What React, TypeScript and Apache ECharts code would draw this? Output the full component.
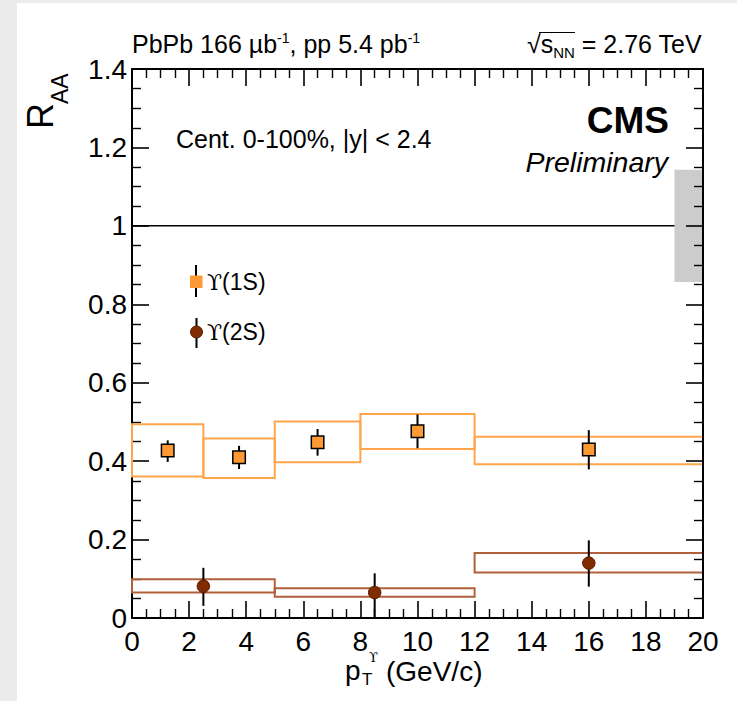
import React, { useEffect, useRef } from 'react';
import * as echarts from 'echarts';

// Upsilon(1S)
const pt1S = [1.25, 3.75, 6.5, 10, 16];
const raa1S = [0.427, 0.41, 0.448, 0.476, 0.43];
const stat1SLow = [0.398, 0.38, 0.414, 0.433, 0.379];
const stat1SHigh = [0.453, 0.439, 0.482, 0.519, 0.479];
const binLow1S = [0, 2.5, 5, 8, 12];
const binHigh1S = [2.5, 5, 8, 12, 20];
const syst1SLow = [0.361, 0.357, 0.397, 0.431, 0.392];
const syst1SHigh = [0.494, 0.458, 0.501, 0.52, 0.462];

// Upsilon(2S)
const pt2S = [2.5, 8.5, 16];
const raa2S = [0.081, 0.065, 0.14];
const stat2SLow = [0.031, 0.0, 0.08];
const stat2SHigh = [0.128, 0.114, 0.198];
const binLow2S = [0, 5, 12];
const binHigh2S = [5, 12, 20];
const syst2SLow = [0.065, 0.054, 0.116];
const syst2SHigh = [0.099, 0.076, 0.166];

// global uncertainty box and reference line
const globalBox = [19, 20, 0.857, 1.143];
const refLine = [[0, 1], [20, 1]];

const FONT = '"Liberation Sans", Arial, sans-serif';
const UPS_FONT = '"DejaVu Serif", "DejaVu Sans", serif';

export default function App() {
  const ref = useRef<HTMLDivElement>(null);
  useEffect(() => {
    const chart = echarts.init(ref.current!, null, { renderer: 'svg' });

    const boxData = (lo: number[], hi: number[], yl: number[], yh: number[]) =>
      lo.map((v, i) => [v, hi[i], yl[i], yh[i]]);
    const errData = (xs: number[], yl: number[], yh: number[]) =>
      xs.map((v, i) => [v, yl[i], yh[i]]);

    const boxRender = (color: string, fill: string) => (params: any, api: any) => {
      const p0 = api.coord([api.value(0), api.value(3)]);
      const p1 = api.coord([api.value(1), api.value(2)]);
      return {
        type: 'rect',
        shape: { x: p0[0], y: p0[1], width: p1[0] - p0[0], height: p1[1] - p0[1] },
        style: { fill, stroke: color, lineWidth: color === 'none' ? 0 : 2 },
      };
    };
    const errRender = (params: any, api: any) => {
      const a = api.coord([api.value(0), api.value(1)]);
      const b = api.coord([api.value(0), api.value(2)]);
      return {
        type: 'line',
        shape: { x1: a[0], y1: a[1], x2: b[0], y2: b[1] },
        style: { stroke: '#000', lineWidth: 2 },
      };
    };

    const tickCommon = {
      axisLine: { show: true, onZero: false, lineStyle: { color: '#000', width: 2 } },
      axisTick: { show: true, inside: true, length: 17, lineStyle: { color: '#000', width: 1.6 } },
      minorTick: { show: true, splitNumber: 4, length: 9, lineStyle: { color: '#000', width: 1.4 } },
      splitLine: { show: false },
      minorSplitLine: { show: false },
    };

    const option: any = {
      animation: false,
      backgroundColor: '#fff',
      grid: { left: 132, right: 34, top: 69, bottom: 83, containLabel: false },
      xAxis: [
        {
          type: 'value', min: 0, max: 20, interval: 2, position: 'bottom',
          ...tickCommon,
          axisLabel: { show: true, color: '#000', fontSize: 28, lineHeight: 20, fontFamily: FONT, margin: 13 },
        },
        {
          type: 'value', min: 0, max: 20, interval: 2, position: 'top',
          ...tickCommon,
          axisLabel: { show: false },
        },
      ],
      yAxis: [
        {
          type: 'value', min: 0, max: 1.4, interval: 0.2, position: 'left',
          ...tickCommon,
          axisLabel: { show: true, color: '#000', fontSize: 28, fontFamily: FONT, margin: 5 },
        },
        {
          type: 'value', min: 0, max: 1.4, interval: 0.2, position: 'right', z: 10,
          ...tickCommon,
          axisLabel: { show: false },
        },
      ],
      graphic: [
        { type: 'rect', z: -10, shape: { x: 0, y: 0, width: 17, height: 701 }, style: { fill: '#ebebeb' } },
        { type: 'rect', z: -10, shape: { x: 0, y: 0, width: 737, height: 3 }, style: { fill: '#ebebeb' } },
        {
          type: 'text', x: 132, y: 44,
          style: {
            text: '{m|PbPb 166 µb}{s|-1}{m|, pp 5.4 pb}{s|-1}',
            align: 'left', verticalAlign: 'middle', fill: '#000',
            rich: {
              m: { fontSize: 25, fontFamily: FONT, lineHeight: 26, fill: '#000' },
              s: { fontSize: 14, fontFamily: FONT, lineHeight: 14, verticalAlign: 'top', fill: '#000' },
            },
          },
        },
        {
          type: 'text', x: 527, y: 44,
          style: {
            text: '{m|√s}{sub|NN}{m| = 2.76 TeV}',
            align: 'left', verticalAlign: 'middle', fill: '#000',
            rich: {
              m: { fontSize: 25, fontFamily: FONT, lineHeight: 32, fill: '#000' },
              sub: { fontSize: 15, fontFamily: FONT, lineHeight: 15, verticalAlign: 'bottom', fill: '#000' },
            },
          },
        },
        { type: 'line', shape: { x1: 539, y1: 32.5, x2: 575, y2: 32.5 }, style: { stroke: '#000', lineWidth: 1.2 } },
        {
          type: 'text', x: 176, y: 139,
          style: { text: 'Cent. 0-100%, |y| < 2.4', fontSize: 25, fontFamily: FONT, fill: '#000', align: 'left', verticalAlign: 'middle' },
        },
        {
          type: 'text', x: 669, y: 120,
          style: { text: 'CMS', fontSize: 37, fontWeight: 'bold', fontFamily: FONT, fill: '#000', align: 'right', verticalAlign: 'middle' },
        },
        {
          type: 'text', x: 668, y: 162,
          style: { text: 'Preliminary', fontSize: 28.5, fontStyle: 'italic', fontFamily: FONT, fill: '#000', align: 'right', verticalAlign: 'middle' },
        },
        // legend
        { type: 'line', shape: { x1: 196, y1: 265, x2: 196, y2: 297 }, style: { stroke: '#000', lineWidth: 2 } },
        { type: 'rect', shape: { x: 190, y: 275.5, width: 12.5, height: 12.5 }, style: { fill: '#ff9933' } },
        {
          type: 'text', x: 207, y: 282,
          style: {
            text: '{u|ϒ}{t|(1S)}', align: 'left', verticalAlign: 'middle',
            rich: {
              u: { fontSize: 22, fontFamily: UPS_FONT, fill: '#000' },
              t: { fontSize: 23, fontFamily: FONT, fill: '#000' },
            },
          },
        },
        { type: 'line', shape: { x1: 196.5, y1: 318, x2: 196.5, y2: 348 }, style: { stroke: '#000', lineWidth: 2 } },
        { type: 'circle', shape: { cx: 196.5, cy: 332, r: 6 }, style: { fill: '#802b00', stroke: '#5a1e00', lineWidth: 1 } },
        {
          type: 'text', x: 207, y: 332,
          style: {
            text: '{u|ϒ}{t|(2S)}', align: 'left', verticalAlign: 'middle',
            rich: {
              u: { fontSize: 22, fontFamily: UPS_FONT, fill: '#000' },
              t: { fontSize: 23, fontFamily: FONT, fill: '#000' },
            },
          },
        },
        // axis titles
        { type: 'text', x: 40, y: 129, rotation: Math.PI / 2, style: { text: 'R', fontSize: 36, fontFamily: FONT, fill: '#000', align: 'left', verticalAlign: 'middle' } },
        { type: 'text', x: 60, y: 104, rotation: Math.PI / 2, style: { text: 'AA', fontSize: 23, fontFamily: FONT, fill: '#000', align: 'left', verticalAlign: 'middle' } },
        { type: 'text', x: 345, y: 670, style: { text: 'p', fontSize: 28, fontFamily: FONT, fill: '#000', align: 'left', verticalAlign: 'middle' } },
        { type: 'text', x: 369, y: 657, style: { text: 'ϒ', fontSize: 13, lineHeight: 12, fontFamily: UPS_FONT, fill: '#000', align: 'left', verticalAlign: 'middle' } },
        { type: 'text', x: 362, y: 679, style: { text: 'T', fontSize: 17, fontFamily: FONT, fill: '#000', align: 'left', verticalAlign: 'middle' } },
        { type: 'text', x: 386, y: 671, style: { text: '(GeV/c)', fontSize: 28, fontFamily: FONT, fill: '#000', align: 'left', verticalAlign: 'middle' } },
      ],
      series: [
        {
          type: 'line', data: refLine, symbol: 'none', z: 1,
          lineStyle: { color: '#000', width: 1.5 },
        },
        {
          type: 'custom', name: 'syst1S', renderItem: boxRender('#ffa64d', 'none'),
          data: boxData(binLow1S, binHigh1S, syst1SLow, syst1SHigh), encode: { x: [0, 1], y: [2, 3] }, z: 2,
        },
        {
          type: 'custom', name: 'syst2S', renderItem: boxRender('#b0603a', 'none'),
          data: boxData(binLow2S, binHigh2S, syst2SLow, syst2SHigh), encode: { x: [0, 1], y: [2, 3] }, z: 2,
        },
        {
          type: 'custom', name: 'global', renderItem: boxRender('none', '#cccccc'),
          data: [globalBox], encode: { x: [0, 1], y: [2, 3] }, z: 3,
        },
        {
          type: 'custom', name: 'err1S', renderItem: errRender,
          data: errData(pt1S, stat1SLow, stat1SHigh), encode: { x: 0, y: [1, 2] }, z: 4,
        },
        {
          type: 'custom', name: 'err2S', renderItem: errRender,
          data: errData(pt2S, stat2SLow, stat2SHigh), encode: { x: 0, y: [1, 2] }, z: 4,
        },
        {
          type: 'scatter', name: 'ϒ(1S)', symbol: 'rect', symbolSize: 12.5, z: 5,
          data: pt1S.map((x, i) => [x, raa1S[i]]),
          itemStyle: { color: '#ff9933', borderColor: '#000', borderWidth: 1.5, opacity: 1 },
        },
        {
          type: 'scatter', name: 'ϒ(2S)', symbol: 'circle', symbolSize: 12.5, z: 5,
          data: pt2S.map((x, i) => [x, raa2S[i]]),
          itemStyle: { color: '#802b00', borderColor: '#5a1e00', borderWidth: 1, opacity: 1 },
        },
      ],
    };
    chart.setOption(option);
    return () => chart.dispose();
  }, []);
  return (
    <div
      ref={ref}
      style={{ position: 'fixed', left: 0, top: 0, width: 737, height: 701, background: '#fff' }}
    />
  );
}
